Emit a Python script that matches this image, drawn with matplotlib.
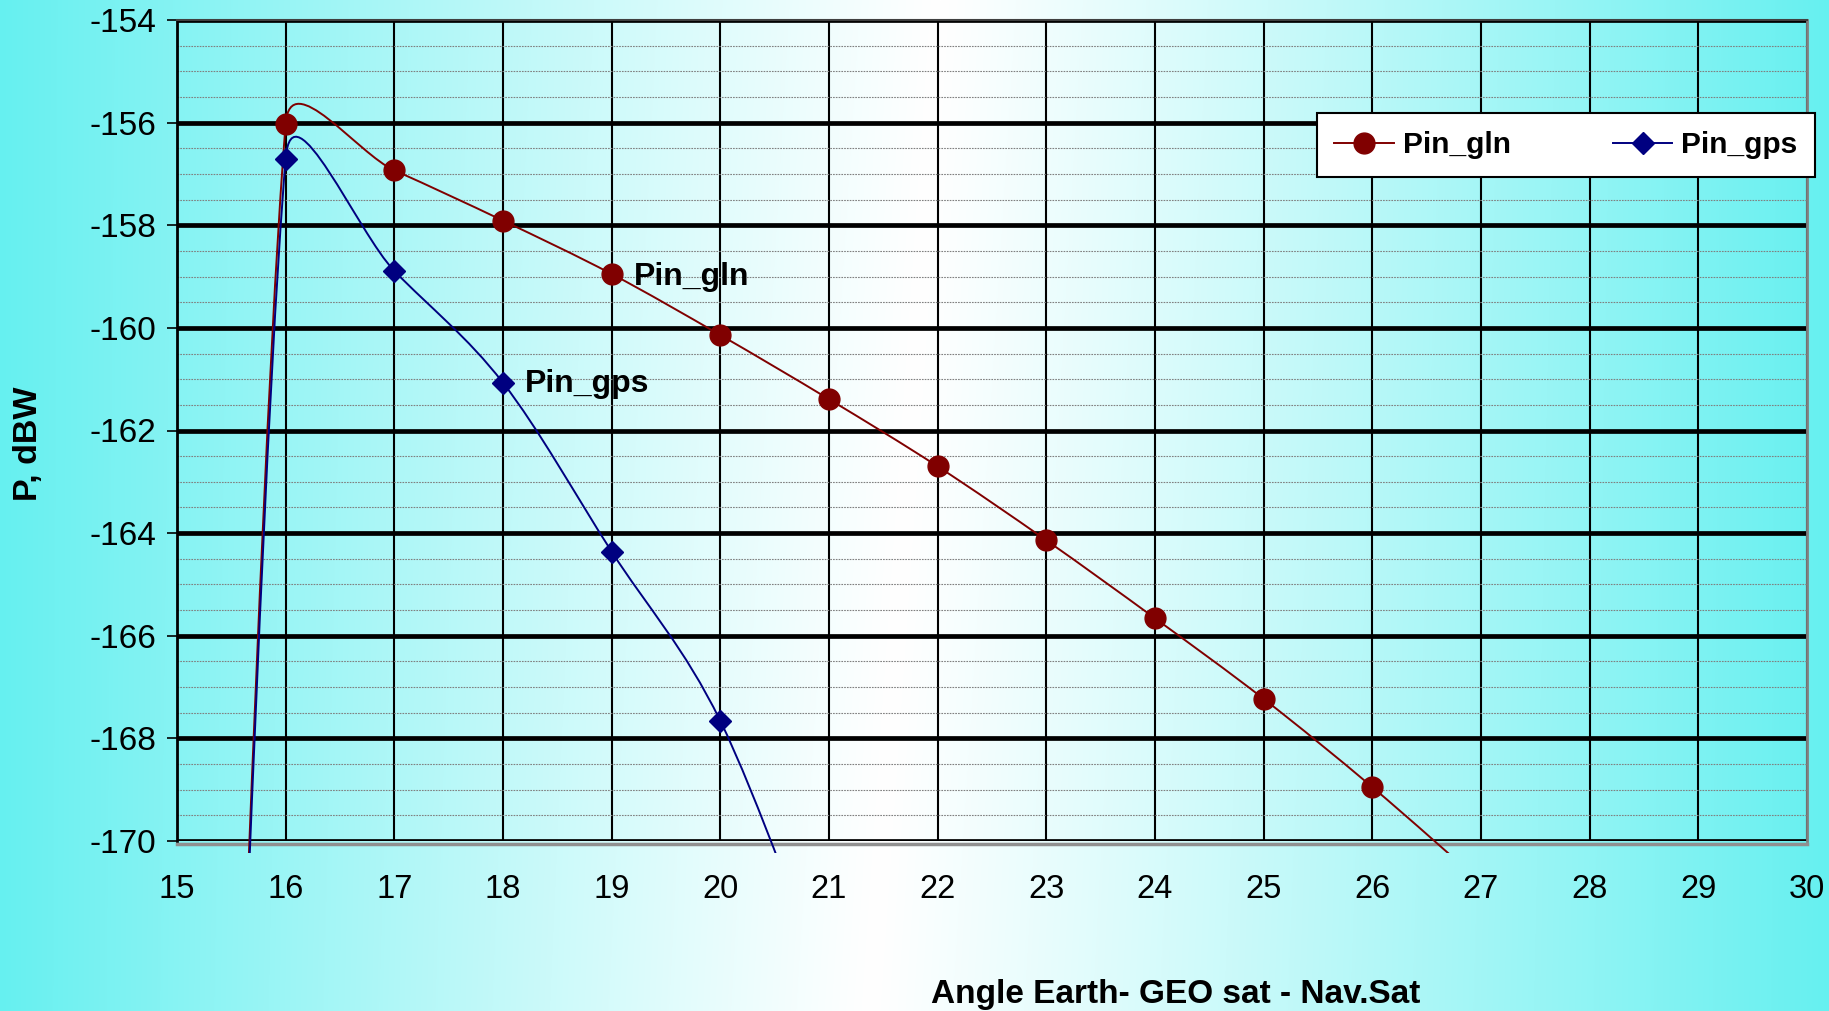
import numpy as np
import matplotlib
matplotlib.use("Agg")
import matplotlib.pyplot as plt
from matplotlib.path import Path
from matplotlib.patches import PathPatch, Rectangle
from matplotlib.lines import Line2D

plt.rcParams['font.family'] = ['Liberation Sans', 'DejaVu Sans']

# data (first / last points lie outside the axis range)
gln_x = [15, 16, 17, 18, 19, 20, 21, 22, 23, 24, 25, 26, 27]
gln_y = [-210.0, -156.02, -156.93, -157.91, -158.95, -160.14, -161.39,
         -162.70, -164.14, -165.66, -167.23, -168.95, -170.80]
gps_x = [15, 16, 17, 18, 19, 20, 21]
gps_y = [-210.0, -156.70, -158.89, -161.07, -164.36, -167.66, -173.0]

x_ticks = list(range(15, 31))
y_ticks = list(range(-170, -153, 2))

red = '#800000'
blue = '#000080'

W, H = 1829, 1011
fig = plt.figure(figsize=(W / 100, H / 100), dpi=100)

# background gradient: cyan at the edges, white band near the middle
bg = fig.add_axes([0, 0, 1, 1])
bg.set_axis_off()
yy, xx = np.mgrid[0:H, 0:W]
xc = 940 - 70 * (yy / H)
t = np.where(xx < xc, (xc - xx) / xc, (xx - xc) / (W - xc))
t = np.clip(t, 0, 1) ** 1.1
edge = np.array([102, 240, 240]) / 255.0
img = (1 - t)[..., None] * np.ones(3) + t[..., None] * edge
bg.imshow(img, aspect='auto', extent=[0, 1, 0, 1], transform=bg.transAxes)

ax = fig.add_axes([177 / W, 1 - 841 / H, (1807 - 177) / W, (841 - 20) / H])
ax.set_zorder(1)
ax.patch.set_alpha(0)
ax.set_xlim(15, 30)
ax.set_ylim(-170, -154)
ax.set_xticks(x_ticks)
ax.set_yticks(y_ticks)
ax.set_yticks(np.arange(-170, -154, 0.5), minor=True)
ax.set_axisbelow(True)

ax.yaxis.grid(True, which='major', color='black', lw=3.4)
ax.yaxis.grid(True, which='minor', color='#808080', lw=0.8, ls=(0, (1.5, 1)))
ax.xaxis.grid(True, which='major', color='black', lw=1.5)

ax.tick_params(axis='y', which='major', length=7, width=1.2, pad=8, labelsize=24)
ax.tick_params(axis='y', which='minor', length=0)
ax.tick_params(axis='x', length=0, pad=22, labelsize=23.5)
ax.set_yticklabels([str(v) for v in y_ticks])

ax.spines['left'].set_linewidth(2)
ax.spines['top'].set_color('#404040')
ax.spines['top'].set_linewidth(1.5)
ax.spines['right'].set_color('#808080')
ax.spines['right'].set_linewidth(2)
ax.spines['bottom'].set_color('#909090')
ax.spines['bottom'].set_linewidth(2.5)
ax.spines['bottom'].set_position(('outward', 2))


def smooth_path(xs, ys):
    # excel-like smoothed line: bezier segments, handles capped at half segment
    pts = ax.transData.transform(np.column_stack([xs, ys]))
    n = len(pts)
    verts = [pts[0]]
    codes = [Path.MOVETO]
    for i in range(n - 1):
        p0 = pts[i - 1] if i > 0 else pts[i]
        p1 = pts[i]
        p2 = pts[i + 1]
        p3 = pts[i + 2] if i + 2 < n else pts[i + 1]
        d12 = np.hypot(*(p2 - p1))
        t1 = (p2 - p0) / 6
        t2 = (p3 - p1) / 6
        if np.hypot(*t1) > d12 / 2:
            t1 = t1 * (d12 / 2) / np.hypot(*t1)
        if np.hypot(*t2) > d12 / 2:
            t2 = t2 * (d12 / 2) / np.hypot(*t2)
        verts += [p1 + t1, p2 - t2, p2]
        codes += [Path.CURVE4] * 3
    verts = ax.transData.inverted().transform(np.array(verts))
    return Path(verts, codes)


clip = Rectangle((0, -12 / 821), 1, 1 + 12 / 821, transform=ax.transAxes,
                 facecolor='none', edgecolor='none')
ax.add_patch(clip)

for xs, ys, c in [(gln_x, gln_y, red), (gps_x, gps_y, blue)]:
    pp = PathPatch(smooth_path(xs, ys), facecolor='none', edgecolor=c, lw=1.4, zorder=3)
    ax.add_patch(pp)
    pp.set_clip_path(clip)

ax.plot(gln_x, gln_y, ls='none', marker='o', ms=15, color=red, zorder=4)
ax.plot(gps_x, gps_y, ls='none', marker='D', ms=11.5, color=blue, zorder=4)

ax.annotate('Pin_gln', xy=(gln_x[4], gln_y[4]), xytext=(16, -2), textcoords='offset points',
            ha='left', va='center', fontsize=23, fontweight='bold')
ax.annotate('Pin_gps', xy=(gps_x[3], gps_y[3]), xytext=(16, -1), textcoords='offset points',
            ha='left', va='center', fontsize=23, fontweight='bold')

handles = [Line2D([], [], color=red, lw=1.4, marker='o', ms=15),
           Line2D([], [], color=blue, lw=1.4, marker='D', ms=11.5)]
leg = ax.legend(handles, ['Pin_gln', 'Pin_gps'], ncol=2, loc='center',
                bbox_to_anchor=(1566 / W, 1 - 145 / H), bbox_transform=fig.transFigure,
                prop={'size': 21.5, 'weight': 'bold'}, fancybox=False, framealpha=1,
                edgecolor='black', borderpad=0.6, handlelength=2.0, handletextpad=0.3,
                columnspacing=3.4)
leg.get_frame().set_linewidth(1.5)

fig.text(29 / W, 1 - 444 / H, 'P, dBW', rotation=90, ha='center', va='center',
         fontsize=24.5, fontweight='bold')
fig.text(1176 / W, 1 - 994 / H, 'Angle Earth- GEO sat - Nav.Sat', ha='center', va='center',
         fontsize=24, fontweight='bold')

fig.savefig('out.png', dpi=100)
